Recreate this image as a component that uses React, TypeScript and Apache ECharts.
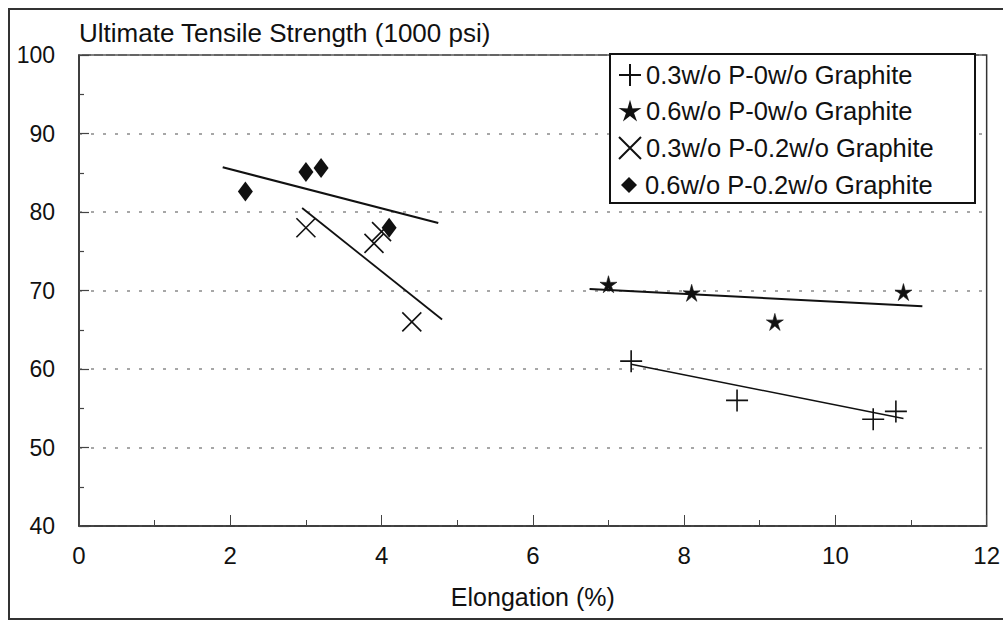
import React, { useEffect, useRef } from "react";
import * as echarts from "echarts";

// Measured points: elongation (%) vs. ultimate tensile strength (1000 psi)
const plusX = [7.3, 8.7, 10.5, 10.8];
const plusY = [61, 56, 53.6, 54.6];
const starX = [7.0, 8.1, 9.2, 10.9];
const starY = [70.8, 69.7, 66, 69.8];
const crossX = [3.0, 3.9, 4.0, 4.4];
const crossY = [78, 76, 77.5, 66];
const diamondX = [2.2, 3.0, 3.2, 4.1];
const diamondY = [82.6, 85.1, 85.6, 78];

// Least-squares trend line end points for each group
const plusFitX = [7.3, 10.9];
const plusFitY = [60.6, 53.7];
const starFitX = [6.75, 11.15];
const starFitY = [70.2, 68.0];
const crossFitX = [2.95, 4.8];
const crossFitY = [80.5, 66.3];
const diamondFitX = [1.9, 4.75];
const diamondFitY = [85.7, 78.6];

const seriesNames = [
  "0.3w/o P-0w/o Graphite",
  "0.6w/o P-0w/o Graphite",
  "0.3w/o P-0.2w/o Graphite",
  "0.6w/o P-0.2w/o Graphite",
];

const xTicks = [0, 2, 4, 6, 8, 10, 12];
const yTicks = [40, 50, 60, 70, 80, 90, 100];

const FONT = "'Liberation Sans', Arial, Helvetica, sans-serif";
const INK = "#111111";

const PLUS = "path://M10,0V20M0,10H20";
const CROSS = "path://M0,0L20,20M0,20L20,0";
const STAR =
  "path://M10,0L12.06,7.17L19.51,6.91L13.33,11.08L15.88,18.09L10,13.5L4.12,18.09L6.67,11.08L0.49,6.91L7.94,7.17Z";

// legend icon boxes (width, height) per entry
const legendIconSizes = [
  [22, 22],
  [16, 16],
  [22, 22],
  [16, 16],
];

const zip = (xs: number[], ys: number[]) => xs.map((x, i) => [x, ys[i]]);

export default function App() {
  const ref = useRef<HTMLDivElement>(null);

  useEffect(() => {
    if (!ref.current) return;
    const chart = echarts.init(ref.current, undefined, { renderer: "svg" });

    const fitLine = (xs: number[], ys: number[], width: number) => ({
      type: "line",
      data: zip(xs, ys),
      symbol: "none",
      silent: true,
      lineStyle: { color: INK, width },
      z: 2,
    });

    // one legend per entry so each icon can have its own size
    const legendBoxLeft = 610;
    const legendBoxTop = 54;
    const iconCenterX = 629;
    const textLeft = 645;
    const rowCenters = [75, 111, 148, 185];
    const legends = seriesNames.map((name, i) => {
      const [w, h] = legendIconSizes[i];
      return {
        data: [name],
        orient: "vertical",
        left: iconCenterX - w / 2,
        top: rowCenters[i] - 14,
        padding: 0,
        itemWidth: w,
        itemHeight: h,
        itemGap: 0,
        selectedMode: false,
        z: 8,
        itemStyle: { opacity: 1 },
        textStyle: {
          fontFamily: FONT,
          fontSize: 25.5,
          lineHeight: 28,
          height: 28,
          color: INK,
          padding: [0, 0, 0, textLeft - (iconCenterX + w / 2) - 5],
        },
      };
    });

    chart.setOption({
      animation: false,
      backgroundColor: "#ffffff",
      textStyle: { fontFamily: FONT, color: INK },
      title: {
        text: "Ultimate Tensile Strength (1000 psi)",
        left: 79,
        top: 20,
        padding: 0,
        textStyle: { fontFamily: FONT, fontSize: 26, fontWeight: "normal", color: INK },
      },
      grid: {
        left: 79,
        right: 15,
        top: 55,
        bottom: 95,
        show: true,
        borderColor: "#333",
        borderWidth: 1.5,
        containLabel: false,
      },
      legend: legends,
      xAxis: {
        type: "value",
        min: 0,
        max: 12,
        interval: 2,
        name: "Elongation (%)",
        nameLocation: "middle",
        nameGap: 58,
        nameTextStyle: { fontFamily: FONT, fontSize: 25, color: INK },
        axisLine: { show: true, lineStyle: { color: "#333", width: 1.5 } },
        axisTick: { show: true, inside: true, length: 11, lineStyle: { color: "#444", width: 1 } },
        minorTick: { show: true, splitNumber: 2, length: 6, lineStyle: { color: "#444", width: 1 } },
        splitLine: { show: false },
        axisLabel: {
          margin: 17,
          fontFamily: FONT,
          fontSize: 24,
          color: INK,
          formatter: (v: number) => (xTicks.includes(v) ? String(v) : ""),
        },
      },
      yAxis: {
        type: "value",
        min: 40,
        max: 100,
        interval: 10,
        axisLine: { show: true, lineStyle: { color: "#333", width: 1.5 } },
        axisTick: { show: true, inside: true, length: 10, lineStyle: { color: "#444", width: 1.2 } },
        minorTick: { show: true, splitNumber: 2, length: 5, lineStyle: { color: "#444", width: 1.2 } },
        splitLine: {
          show: true,
          lineStyle: { color: "#8a8a8a", width: 1.5, type: [3, 9] },
        },
        axisLabel: {
          margin: 24,
          fontFamily: FONT,
          fontSize: 23,
          color: INK,
          formatter: (v: number) => (yTicks.includes(v) ? String(v) : ""),
        },
      },
      graphic: [
        {
          type: "rect",
          shape: { x: 9, y: 9, width: 1010, height: 610 },
          style: { fill: "none", stroke: "#333", lineWidth: 2 },
          silent: true,
          z: -1,
        },
        {
          type: "rect",
          shape: { x: legendBoxLeft, y: legendBoxTop, width: 365, height: 149 },
          style: { fill: "#fff", stroke: INK, lineWidth: 2 },
          silent: true,
          z: 1,
        },
      ],
      series: [
        {
          name: seriesNames[0],
          type: "scatter",
          data: zip(plusX, plusY),
          symbol: PLUS,
          symbolSize: 22,
          itemStyle: { color: INK, borderColor: INK, borderWidth: 1.6, opacity: 1 },
          z: 3,
        },
        {
          name: seriesNames[1],
          type: "scatter",
          data: zip(starX, starY),
          symbol: STAR,
          symbolSize: 17,
          itemStyle: { color: INK, borderColor: INK, borderWidth: 0.6, opacity: 1 },
          z: 3,
        },
        {
          name: seriesNames[2],
          type: "scatter",
          data: zip(crossX, crossY),
          symbol: CROSS,
          symbolSize: 19,
          itemStyle: { color: INK, borderColor: INK, borderWidth: 1.6, opacity: 1 },
          z: 3,
        },
        {
          name: seriesNames[3],
          type: "scatter",
          data: zip(diamondX, diamondY),
          symbol: "diamond",
          symbolSize: [15, 20],
          itemStyle: { color: INK, opacity: 1 },
          z: 4,
        },
        fitLine(plusFitX, plusFitY, 1.4),
        fitLine(starFitX, starFitY, 2),
        fitLine(crossFitX, crossFitY, 1.8),
        fitLine(diamondFitX, diamondFitY, 2.2),
      ],
    });

    return () => chart.dispose();
  }, []);

  return (
    <div
      ref={ref}
      style={{ position: "absolute", left: 0, top: 0, width: 1003, height: 621 }}
    />
  );
}
